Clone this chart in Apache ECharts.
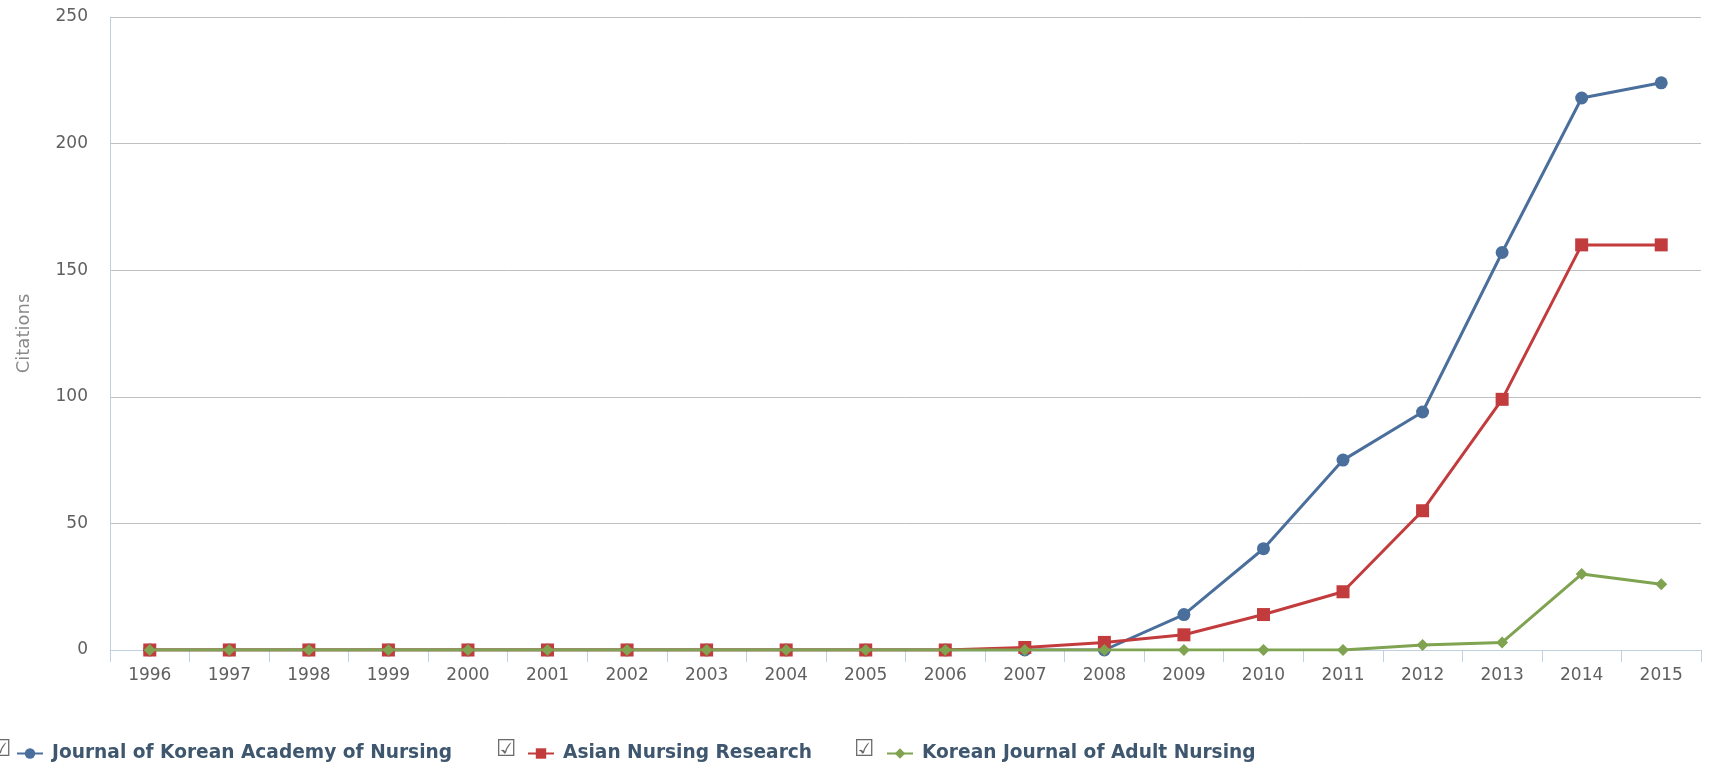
<!DOCTYPE html>
<html>
<head>
<meta charset="utf-8">
<script src="https://cdn.jsdelivr.net/npm/echarts@6/dist/echarts.min.js"></script>
<style>
  html, body { margin: 0; padding: 0; background: #ffffff; }
  #chart { width: 1712px; height: 767px; }
</style>
</head>
<body>
<div id="chart"></div>
<script>
// Citations per year for three nursing journals
const years = ['1996','1997','1998','1999','2000','2001','2002','2003','2004','2005',
               '2006','2007','2008','2009','2010','2011','2012','2013','2014','2015'];
const jkanCitations  = [0,0,0,0,0,0,0,0,0,0,0,0,0,14,40,75,94,157,218,224];
const anrCitations   = [0,0,0,0,0,0,0,0,0,0,0,1,3,6,14,23,55,99,160,160];
const kjanCitations  = [0,0,0,0,0,0,0,0,0,0,0,0,0,0,0,0,2,3,30,26];
const seriesNames = ['Journal of Korean Academy of Nursing', 'Asian Nursing Research', 'Korean Journal of Adult Nursing'];
const yTicks = { min: 0, max: 250, interval: 50 };

const colors = ['#4A6F9C', '#C23B3D', '#7FA350'];
const symbols = ['circle', 'rect', 'diamond'];
const symbolSizes = [13, 13, 12];
const legendLefts = [16, 527, 886];
const checkboxLefts = [-9, 496, 854];

const chart = echarts.init(document.getElementById('chart'), null, { renderer: 'canvas' });

const dataSets = [jkanCitations, anrCitations, kjanCitations];

const legends = seriesNames.map((name, i) => ({
  data: [name],
  left: legendLefts[i],
  top: 744,
  itemWidth: 26,
  itemHeight: 13,
  padding: 0,
  selectedMode: false,
  textStyle: {
    fontFamily: 'DejaVu Sans',
    fontWeight: 'bold',
    fontSize: 18.6,
    color: '#3E576F',
    padding: [0, 0, 0, 4]
  }
}));

const checkboxes = checkboxLefts.map(x => ({
  type: 'text',
  left: x,
  top: 739,
  style: {
    text: '\u2611',
    font: '23px "DejaVu Sans"',
    fill: '#6a6a6a'
  }
}));

chart.setOption({
  animation: false,
  backgroundColor: '#ffffff',
  grid: { left: 110, right: 11, top: 17, bottom: 117 },
  legend: legends,
  graphic: checkboxes,
  xAxis: {
    type: 'category',
    data: years,
    boundaryGap: true,
    axisLine: { show: true, lineStyle: { color: '#C0D0E0', width: 1 } },
    axisTick: { show: true, length: 12, lineStyle: { color: '#C0D0E0' } },
    axisLabel: {
      fontFamily: 'DejaVu Sans',
      fontSize: 17,
      color: '#606060',
      margin: 17
    },
    splitLine: { show: false }
  },
  yAxis: {
    type: 'value',
    min: yTicks.min,
    max: yTicks.max,
    interval: yTicks.interval,
    name: 'Citations',
    nameLocation: 'middle',
    nameGap: 77,
    nameRotate: 90,
    nameTextStyle: { fontFamily: 'DejaVu Sans', fontSize: 18, color: '#8a8a8a' },
    axisLine: { show: true, lineStyle: { color: '#C0D0E0', width: 1 } },
    axisTick: { show: false },
    axisLabel: {
      fontFamily: 'DejaVu Sans',
      fontSize: 17,
      color: '#606060',
      margin: 22
    },
    splitLine: { show: true, lineStyle: { color: '#C0C0C0', width: 1 } }
  },
  series: seriesNames.map((name, i) => ({
    name: name,
    type: 'line',
    data: dataSets[i],
    symbol: symbols[i],
    symbolSize: symbolSizes[i],
    showAllSymbol: true,
    lineStyle: { color: colors[i], width: 3 },
    itemStyle: { color: colors[i], borderWidth: 0 },
    emphasis: { disabled: true },
    z: 2 + i
  }))
});
</script>
</body>
</html>
